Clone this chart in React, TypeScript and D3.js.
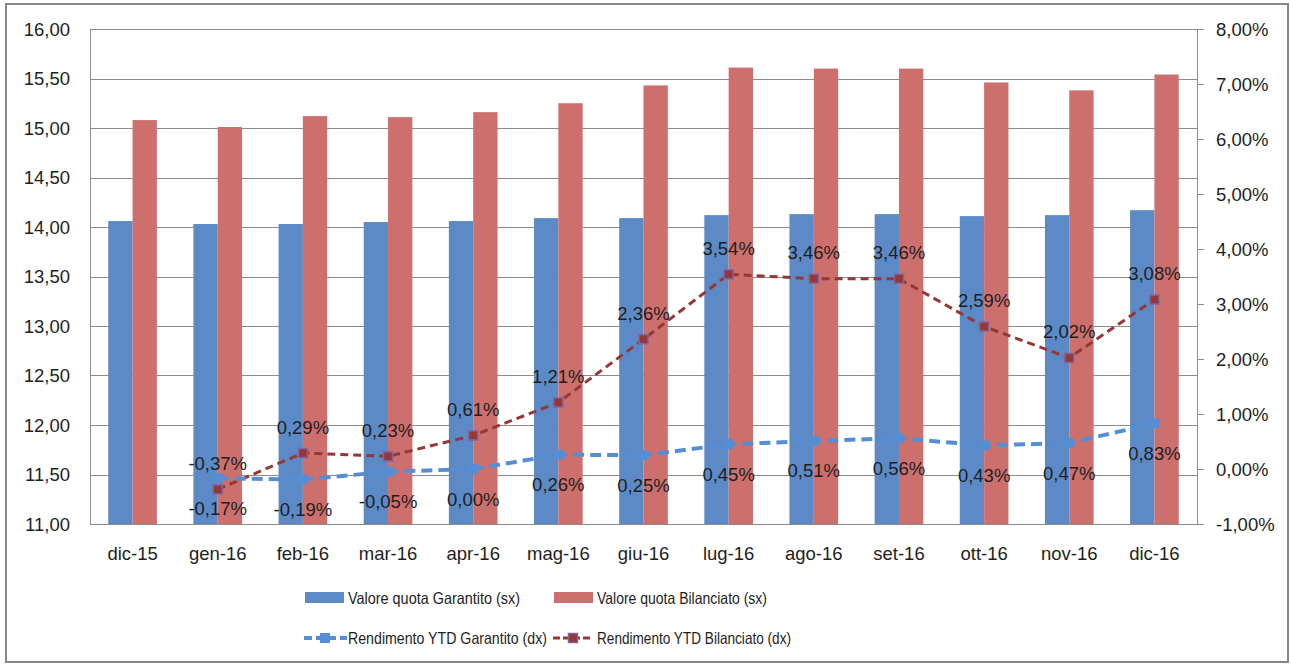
import React from "react";
import * as d3 from "d3";

const categories = ["dic-15","gen-16","feb-16","mar-16","apr-16","mag-16","giu-16","lug-16","ago-16","set-16","ott-16","nov-16","dic-16"];
const quotaGarantito = [14.06,14.03,14.03,14.05,14.06,14.09,14.09,14.12,14.13,14.13,14.11,14.12,14.17];
const quotaBilanciato = [15.08,15.01,15.12,15.11,15.16,15.25,15.43,15.61,15.60,15.60,15.46,15.38,15.54];
const rendGarantito: (number | null)[] = [null,-0.17,-0.19,-0.05,0.00,0.26,0.25,0.45,0.51,0.56,0.43,0.47,0.83];
const rendBilanciato: (number | null)[] = [null,-0.37,0.29,0.23,0.61,1.21,2.36,3.54,3.46,3.46,2.59,2.02,3.08];
const leftTicks = [11,11.5,12,12.5,13,13.5,14,14.5,15,15.5,16];
const rightTicks = [-1,0,1,2,3,4,5,6,7,8];
const legendLabels = ["Valore quota Garantito (sx)","Valore quota Bilanciato (sx)","Rendimento YTD Garantito (dx)","Rendimento YTD Bilanciato (dx)"];

const W = 1290, H = 664;
const PL = 90, PR = 1197, PT = 29, PB = 524;
const BLUE = "#5B8AC6";
const RED = "#CD6F6C";
const LBLUE = "#558ED5";
const DRED = "#953735";
const GRID = "#8C8C8C";
const FONT = "'Liberation Sans', Arial, sans-serif";
const TXT = "#1E1E1E";

const fmt = (v: number, d = 2) => v.toFixed(d).replace(".", ",");

export default function App() {
  const x = d3.scaleBand<string>().domain(categories).range([PL, PR]).padding(0);
  const inner = d3.scaleBand<string>().domain(["g","b"]).range([0, x.bandwidth()]).paddingInner(0).paddingOuter(0.75);
  const yL = d3.scaleLinear().domain([11, 16]).range([PB, PT]);
  const yR = d3.scaleLinear().domain([-1, 8]).range([PB, PT]);
  const cx = (c: string) => (x(c) as number) + x.bandwidth() / 2;

  const line = d3.line<[string, number | null]>()
    .defined(d => d[1] !== null)
    .x(d => cx(d[0]))
    .y(d => yR(d[1] as number));
  const gPts = categories.map((c, i) => [c, rendGarantito[i]] as [string, number | null]);
  const bPts = categories.map((c, i) => [c, rendBilanciato[i]] as [string, number | null]);

  const legendLens = [172, 170, 199, 194];
  const LFS = 16.5;

  return (
    <svg width={W} height={H} style={{ position: "absolute", left: 0, top: 0, background: "#fff" }} fontFamily={FONT}>
      <rect x={6} y={4} width={1282} height={658} fill="#fff" stroke="#878787" strokeWidth={2} />
      {leftTicks.map(t => (
        <line key={"g" + t} x1={PL} x2={PR} y1={Math.round(yL(t)) + 0.5} y2={Math.round(yL(t)) + 0.5} stroke={GRID} strokeWidth={1} />
      ))}
      <line x1={PL + 0.5} x2={PL + 0.5} y1={PT} y2={PB} stroke={GRID} strokeWidth={1} />
      <line x1={PR + 0.5} x2={PR + 0.5} y1={PT} y2={PB} stroke={GRID} strokeWidth={1} />
      {rightTicks.map(t => (
        <line key={"rt" + t} x1={PR} x2={PR + 7} y1={Math.round(yR(t)) + 0.5} y2={Math.round(yR(t)) + 0.5} stroke={GRID} strokeWidth={1} />
      ))}
      {categories.map((c, i) => (
        <g key={"bar" + c}>
          <rect x={(x(c) as number) + (inner("g") as number)} width={inner.bandwidth()} y={yL(quotaGarantito[i])} height={PB - yL(quotaGarantito[i])} fill={BLUE} />
          <rect x={(x(c) as number) + (inner("b") as number)} width={inner.bandwidth()} y={yL(quotaBilanciato[i])} height={PB - yL(quotaBilanciato[i])} fill={RED} />
        </g>
      ))}
      <line x1={PL} x2={PR} y1={PB + 0.5} y2={PB + 0.5} stroke={GRID} strokeWidth={1} />
      {leftTicks.map(t => (
        <text key={"ll" + t} x={70} y={yL(t)} textAnchor="end" dominantBaseline="central" fontSize={18.5} fill={TXT}>{fmt(t)}</text>
      ))}
      {rightTicks.map(t => (
        <text key={"rl" + t} x={1216} y={yR(t)} textAnchor="start" dominantBaseline="central" fontSize={18.5} fill={TXT}>{fmt(t) + "%"}</text>
      ))}
      {categories.map(c => (
        <text key={"cl" + c} x={cx(c)} y={553} textAnchor="middle" dominantBaseline="central" fontSize={18.5} fill={TXT}>{c}</text>
      ))}
      <path d={line(bPts) || ""} fill="none" stroke={DRED} strokeWidth={3} strokeDasharray="8,5" />
      <path d={line(gPts) || ""} fill="none" stroke={LBLUE} strokeWidth={4} strokeDasharray="11,6" />
      {gPts.filter(d => d[1] !== null).map(d => (
        <rect key={"gm" + d[0]} x={cx(d[0]) - 5} y={yR(d[1] as number) - 5} width={10} height={10} fill={LBLUE} />
      ))}
      {bPts.filter(d => d[1] !== null).map(d => (
        <rect key={"bm" + d[0]} x={cx(d[0]) - 4.5} y={yR(d[1] as number) - 4.5} width={9} height={9} fill={DRED} stroke="#8064A2" strokeWidth={1.5} />
      ))}
      {bPts.filter(d => d[1] !== null).map(d => (
        <text key={"bl" + d[0]} x={cx(d[0])} y={yR(d[1] as number) - 26} textAnchor="middle" dominantBaseline="central" fontSize={18.5} fill={TXT}>{fmt(d[1] as number) + "%"}</text>
      ))}
      {gPts.filter(d => d[1] !== null).map(d => (
        <text key={"glb" + d[0]} x={cx(d[0])} y={yR(d[1] as number) + 30} textAnchor="middle" dominantBaseline="central" fontSize={18.5} fill={TXT}>{fmt(d[1] as number) + "%"}</text>
      ))}
      <rect x={305} y={592} width={39} height={11} fill={BLUE} />
      <text x={348} y={598} dominantBaseline="central" fontSize={LFS} fill={TXT} textLength={legendLens[0]} lengthAdjust="spacingAndGlyphs">{legendLabels[0]}</text>
      <rect x={554} y={592} width={39} height={11} fill={RED} />
      <text x={597} y={598} dominantBaseline="central" fontSize={LFS} fill={TXT} textLength={legendLens[1]} lengthAdjust="spacingAndGlyphs">{legendLabels[1]}</text>
      <line x1={304} x2={347} y1={638} y2={638} stroke={LBLUE} strokeWidth={4} strokeDasharray="8,4" />
      <rect x={320} y={633} width={10} height={10} fill={LBLUE} />
      <text x={348} y={638} dominantBaseline="central" fontSize={LFS} fill={TXT} textLength={legendLens[2]} lengthAdjust="spacingAndGlyphs">{legendLabels[2]}</text>
      <line x1={553} x2={593} y1={638} y2={638} stroke={DRED} strokeWidth={3} strokeDasharray="7,3" />
      <rect x={568.5} y={633.5} width={9} height={9} fill={DRED} stroke="#8064A2" strokeWidth={1.5} />
      <text x={597} y={638} dominantBaseline="central" fontSize={LFS} fill={TXT} textLength={legendLens[3]} lengthAdjust="spacingAndGlyphs">{legendLabels[3]}</text>
    </svg>
  );
}
